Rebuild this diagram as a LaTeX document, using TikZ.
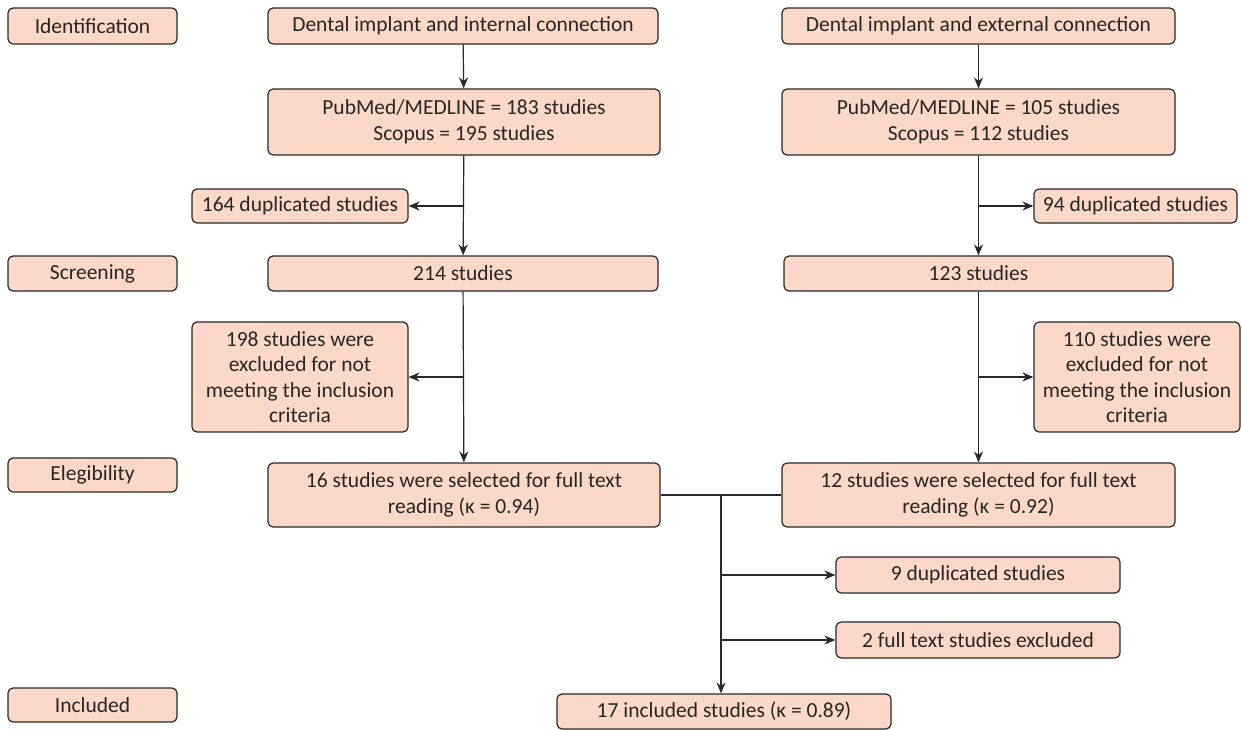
\documentclass[tikz,border=0pt]{standalone}
\usepackage{fontspec}
\setmainfont{Carlito}
\usetikzlibrary{arrows.meta}
\definecolor{boxfill}{RGB}{251,216,200}
\definecolor{edge}{RGB}{40,40,40}
\tikzset{
  box/.style={draw=edge, line width=1.2pt, fill=boxfill, rounded corners=5pt, align=center, font=\fontsize{21.5}{25.5}\selectfont, text=black!85, inner sep=0pt},
  conn/.style={draw=edge, line width=1.2pt},
  arr/.style={conn, -{Stealth[length=11pt,width=9pt]}}
}
\begin{document}
\begin{tikzpicture}[x=1pt,y=-1pt]
\useasboundingbox (0,0) rectangle (1242,729);
\newcommand{\bx}[6]{\node[box, minimum width=#4-#2, minimum height=#5-#3] (#1) at ({(#2+#4)/2},{(#3+#5)/2}) {#6};}
\bx{id}{8}{8}{177}{44}{Identification}
\bx{di}{268}{8}{658}{44}{Dental implant and internal connection}
\bx{de}{782}{8}{1175}{44}{Dental implant and external connection}
\bx{pl}{268}{89}{660}{155}{PubMed/MEDLINE = 183 studies\\Scopus = 195 studies}
\bx{pr}{782}{89}{1175}{155}{PubMed/MEDLINE = 105 studies\\Scopus = 112 studies}
\bx{dl}{192}{189}{408}{223}{164 duplicated studies}
\bx{dr}{1034}{189}{1237}{223}{94 duplicated studies}
\bx{sc}{8}{256}{177}{291}{Screening}
\bx{sl}{268}{256}{658}{291}{214 studies}
\bx{sr}{784}{256}{1173}{291}{123 studies}
\bx{el}{192}{322}{408}{432}{198 studies were\\excluded for not\\meeting the inclusion\\criteria}
\bx{er}{1034}{322}{1240}{432}{110 studies were\\excluded for not\\meeting the inclusion\\criteria}
\bx{eg}{8}{458}{177}{492}{Elegibility}
\bx{fl}{268}{463}{660}{527}{16 studies were selected for full text\\reading (κ = 0.94)}
\bx{fr}{782}{463}{1175}{527}{12 studies were selected for full text\\reading (κ = 0.92)}
\bx{nd}{836}{557}{1120}{593}{9 duplicated studies}
\bx{ft}{836}{622}{1120}{658}{2 full text studies excluded}
\bx{in}{8}{688}{177}{722}{Included}
\bx{fi}{557}{694}{891}{729}{17 included studies (κ = 0.89)}
% connectors
\draw[arr] (di) -- (pl);
\draw[arr] (de) -- (pr);
\draw[arr] (pl) -- (sl);
\coordinate (bl) at (pl.south |- dl.east);
\draw[arr] (bl) -- (dl.east);
\draw[arr] (pr.south) -- (pr.south |- sr.north);
\coordinate (br) at (pr.south |- dr.west);
\draw[arr] (br) -- (dr.west);
\draw[arr] (sl) -- (fl);
\coordinate (cl) at (sl.south |- el.east);
\draw[arr] (cl) -- (el.east);
\draw[arr] (sr) -- (sr.south |- fr.north);
\coordinate (cr) at (sr.south |- er.west);
\draw[arr] (cr) -- (er.west);
\draw[conn] (fl.east) -- (fr.west);
\coordinate (j) at (721,495);
\draw[arr] (j) -- (j |- fi.north);
\draw[arr] (j |- nd.west) -- (nd.west);
\draw[arr] (j |- ft.west) -- (ft.west);
\end{tikzpicture}
\end{document}
